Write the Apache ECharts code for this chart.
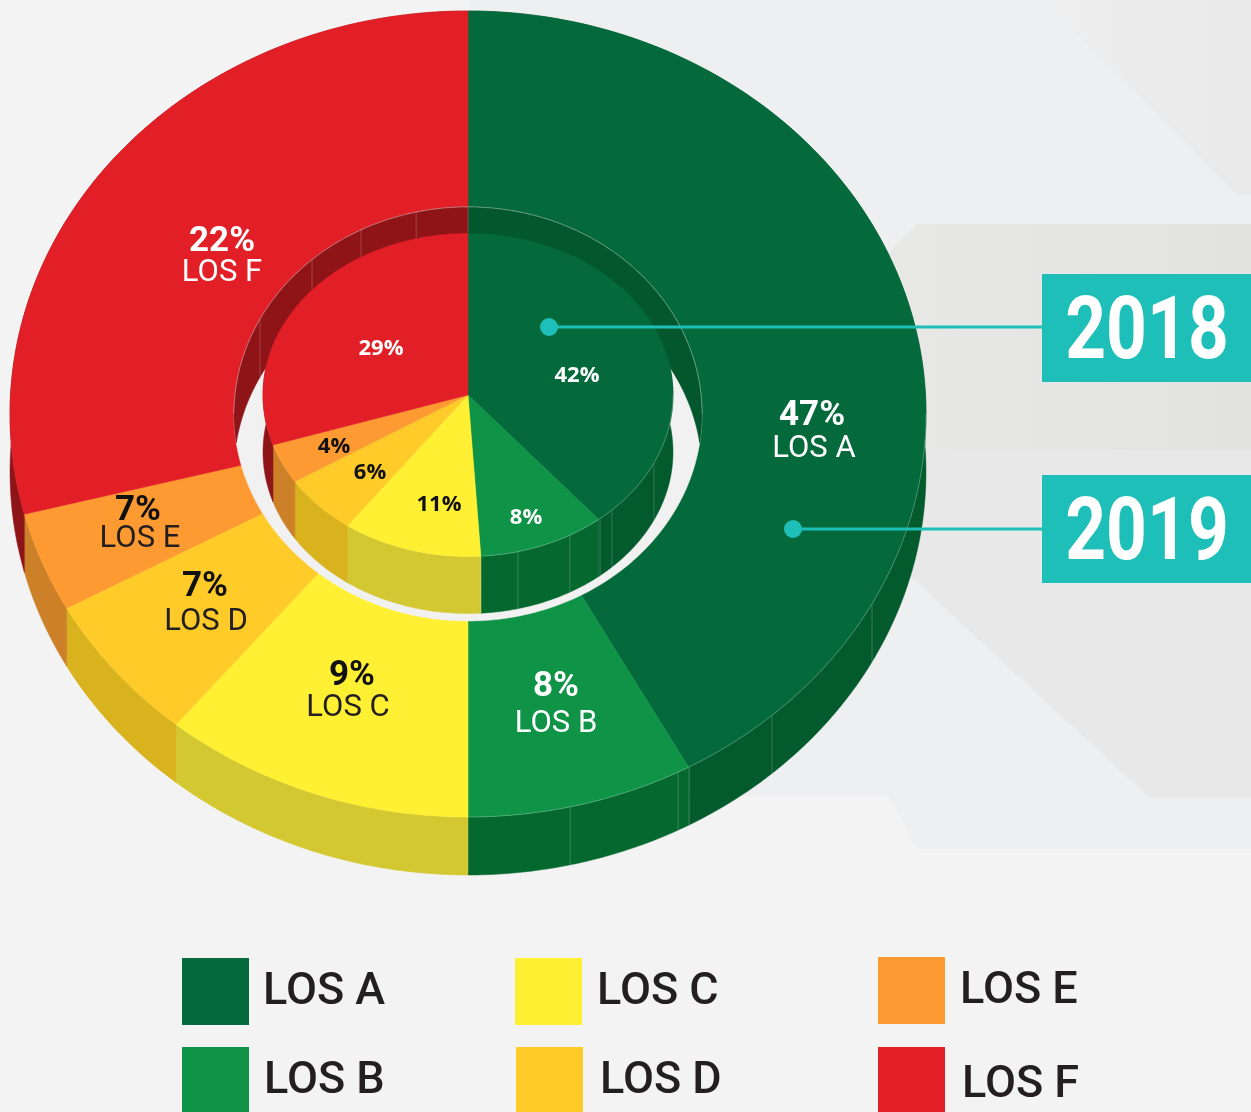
<!DOCTYPE html>
<html>
<head>
<meta charset="utf-8">
<style>
  html, body { margin: 0; padding: 0; background: #f3f3f3; }
  #chart { width: 1251px; height: 1112px; }
</style>
</head>
<body>
<div id="chart"></div>
<script src="https://cdn.jsdelivr.net/npm/echarts@6/dist/echarts.min.js"></script>
<script>
const levels = ['LOS A', 'LOS B', 'LOS C', 'LOS D', 'LOS E', 'LOS F']
const values2018 = [42, 8, 11, 6, 4, 29]
const values2019 = [47, 8, 9, 7, 7, 22]
// the slices in the picture are not cut to their printed labels, so these are read from the drawing (% of a turn)
const outerSweep = [42, 8, 11, 6, 4, 29]
const innerSweep = [39, 10, 11, 6, 4, 30]

const topColors = ['#046a3b', '#0e9347', '#fff033', '#ffcb29', '#fd9a31', '#e21f26']
const wallColors = ['#035a2c', '#05682f', '#d4c832', '#d8b31e', '#cc8028', '#8f1418']
const textColors = ['#fff', '#fff', '#231f20', '#231f20', '#231f20', '#fff']
const pctColors = ['#fff', '#fff', '#111', '#111', '#111', '#fff']
const teal = '#1dbfb8'

const outerDisc = { cx: 468, cy: 414, rx: 458, ry: 403, depth: 58 }
const hole = { cx: 468, cy: 414, rx: 234, ry: 207, depth: 58 }
const innerDisc = { cx: 468, cy: 395, rx: 205, ry: 161.5, depth: 57 }

const outerSeams = [118.1, 138.4, 151.1, 152.7, 167.1]
const innerSeams = [114.9, 135.4, 139.9, 150.2, 165.9, 176.4]
const holeSeams = [297.3, 318.2, 332.8, 347.2, 0]

const outerLabelPos = [[812, 414, 814, 447], [556, 685, 556, 722], [352, 674, 348, 706], [205, 585, 206, 620], [138, 509, 140, 537], [222, 240, 222, 271]]
const innerLabelPos = [[577, 374], [526, 516], [439, 503], [370, 471], [334, 445], [381, 347]]
const legendPos = [[182, 958, 263, 990], [182, 1047, 264, 1079], [515, 958, 597, 990], [516, 1047, 600, 1079], [878, 957, 960, 989], [878, 1047, 962, 1083]]

function ranges(sweep) {
  let at = 0
  return sweep.map(v => {
    const r = [at * 3.6, (at + v) * 3.6]
    at += v
    return r
  })
}

// t is measured clockwise from the top of the ellipse, in degrees
function arc(e, t0, t1, dy) {
  const pts = []
  const n = Math.max(2, Math.ceil(Math.abs(t1 - t0)))
  for (let i = 0; i <= n; i++) {
    const t = (t0 + (t1 - t0) * i / n) * Math.PI / 180
    pts.push([e.cx + e.rx * Math.sin(t), e.cy - e.ry * Math.cos(t) + dy])
  }
  return pts
}

function polygon(api, pts, fill) {
  return {
    type: 'polygon',
    shape: { points: pts.map(p => api.coord(p)) },
    style: { fill: fill, stroke: fill, lineWidth: 0.5 }
  }
}

function customSeries(data, renderItem) {
  return {
    type: 'custom',
    coordinateSystem: 'cartesian2d',
    silent: true,
    clip: false,
    animation: false,
    data: data,
    renderItem: renderItem
  }
}

function wallSeries(e, sweep) {
  return customSeries(ranges(sweep), (params, api) => {
    const t0 = api.value(0)
    const t1 = api.value(1)
    return polygon(api, arc(e, t0, t1, 0).concat(arc(e, t1, t0, e.depth)), wallColors[params.dataIndex])
  })
}

function topSeries(e, sweep) {
  return customSeries(ranges(sweep), (params, api) => {
    const pts = [[e.cx, e.cy]].concat(arc(e, api.value(0), api.value(1), 0))
    return polygon(api, pts, topColors[params.dataIndex])
  })
}

function seamSeries(e, ts) {
  return customSeries(ts.map(t => [t]), (params, api) => {
    const top = arc(e, api.value(0), api.value(0), 0)[0]
    const a = api.coord(top)
    const b = api.coord([top[0], top[1] + e.depth])
    return {
      type: 'line',
      shape: { x1: a[0], y1: a[1], x2: b[0], y2: b[1] },
      style: { stroke: 'rgba(255,255,255,0.2)', lineWidth: 1 }
    }
  })
}

function edgeSeries(e, spans) {
  return customSeries(spans, (params, api) => ({
    type: 'polyline',
    shape: { points: arc(e, api.value(0), api.value(1), 0).map(p => api.coord(p)) },
    style: { stroke: 'rgba(255,255,255,0.3)', lineWidth: 0.8, fill: null }
  }))
}

// back wall of the hole in the outer ring: stops where the dropped rim meets the near rim
const tipAngle = Math.acos((hole.depth / 2) / hole.ry) * 180 / Math.PI
const holeWallSpans = [
  [0, 90 + (90 - tipAngle), tipAngle, 0, 0],
  [360 - (90 + (90 - tipAngle)), 360, 360, 360 - tipAngle, 5]
]

function labelText(x, y, text, font, fill, api) {
  const p = api.coord([x, y + 2])
  return {
    type: 'text',
    x: p[0],
    y: p[1],
    style: { text: text, font: font, fill: fill, textAlign: 'center', textVerticalAlign: 'middle' }
  }
}

const series = [
  wallSeries(outerDisc, outerSweep),
  seamSeries(outerDisc, outerSeams),
  topSeries(outerDisc, outerSweep),
  edgeSeries(outerDisc, [[90, 180]]),
  // floor of the hole
  customSeries([[0, 360]], (params, api) => polygon(api, arc(hole, api.value(0), api.value(1), 0), '#f1f1f2')),
  customSeries(holeWallSpans, (params, api) => {
    const span = holeWallSpans[params.dataIndex]
    const pts = arc(hole, span[0], span[1], 0).concat(arc(hole, span[2], span[3], hole.depth))
    return polygon(api, pts, span[4] === 0 ? '#02572c' : '#8f1418')
  }),
  seamSeries(hole, holeSeams),
  edgeSeries(hole, [[270, 450]]),
  wallSeries(innerDisc, innerSweep),
  seamSeries(innerDisc, innerSeams),
  topSeries(innerDisc, innerSweep),
  edgeSeries(innerDisc, [[90, 176]]),
  customSeries(values2019, (params, api) => {
    const i = params.dataIndex
    const pos = outerLabelPos[i]
    return {
      type: 'group',
      children: [
        labelText(pos[0], pos[1], values2019[i] + '%', 'bold 35px Roboto', pctColors[i], api),
        labelText(pos[2], pos[3], levels[i], '31px Roboto', textColors[i], api)
      ]
    }
  }),
  customSeries(values2018, (params, api) => {
    const i = params.dataIndex
    const pos = innerLabelPos[i]
    return labelText(pos[0], pos[1], values2018[i] + '%', 'bold 22px "Open Sans"', pctColors[i], api)
  })
]

const background = [
  { type: 'rect', shape: { x: 0, y: 0, width: 1251, height: 1112 }, style: { fill: '#f3f3f3' } },
  { type: 'polygon', shape: { points: [[470, 0], [1251, 0], [1251, 849], [918, 849], [888, 796], [600, 796], [470, 500]] }, style: { fill: '#eeeff1' } },
  { type: 'polygon', shape: { points: [[1043, 0], [1251, 0], [1251, 195], [1237, 195]] },
    style: { fill: new echarts.graphic.LinearGradient(0, 0, 1, 0, [{ offset: 0, color: '#eeeeef' }, { offset: 1, color: '#e9e9e9' }]) } },
  { type: 'polygon', shape: { points: [[918, 224], [1251, 224], [1251, 450], [880, 450], [880, 261]] },
    style: { fill: new echarts.graphic.LinearGradient(0, 0, 1, 0, [{ offset: 0, color: '#e8e8e7' }, { offset: 1, color: '#e2e2e0' }]) } },
  { type: 'polygon', shape: { points: [[880, 450], [1251, 450], [1251, 798], [1150, 798], [880, 548]] }, style: { fill: '#e8e8e8' } }
]

const callouts = [
  { text: '2018', dot: [549, 327], box: 274 },
  { text: '2019', dot: [793, 529], box: 475 }
]

const foreground = []
callouts.forEach(c => {
  foreground.push({ type: 'line', z: 100, shape: { x1: c.dot[0], y1: c.dot[1], x2: 1042, y2: c.dot[1] }, style: { stroke: teal, lineWidth: 3 } })
  foreground.push({ type: 'circle', z: 100, shape: { cx: c.dot[0], cy: c.dot[1], r: 9 }, style: { fill: teal } })
  foreground.push({ type: 'rect', z: 100, shape: { x: 1042, y: c.box, width: 209, height: 108 }, style: { fill: teal } })
  foreground.push({
    type: 'text', z: 101, x: 1147, y: c.box + 62, scaleX: 0.81,
    style: { text: c.text, font: 'bold 88px Roboto', fill: '#fff', textAlign: 'center', textVerticalAlign: 'middle' }
  })
})
levels.forEach((name, i) => {
  const pos = legendPos[i]
  foreground.push({ type: 'rect', z: 100, shape: { x: pos[0], y: pos[1], width: 67, height: 67 }, style: { fill: topColors[i] } })
  foreground.push({
    type: 'text', z: 100, x: pos[2], y: pos[3] + 3,
    style: { text: name, font: '500 45px Roboto', fill: '#231f20', textAlign: 'left', textVerticalAlign: 'middle' }
  })
})

const chart = echarts.init(document.getElementById('chart'), null, { renderer: 'canvas' })
chart.setOption({
  animation: false,
  grid: { left: 0, right: 0, top: 0, bottom: 0 },
  xAxis: { type: 'value', min: 0, max: 1251, show: false },
  yAxis: { type: 'value', min: 0, max: 1112, inverse: true, show: false },
  graphic: { elements: background.concat(foreground) },
  series: series
})
</script>
</body>
</html>
